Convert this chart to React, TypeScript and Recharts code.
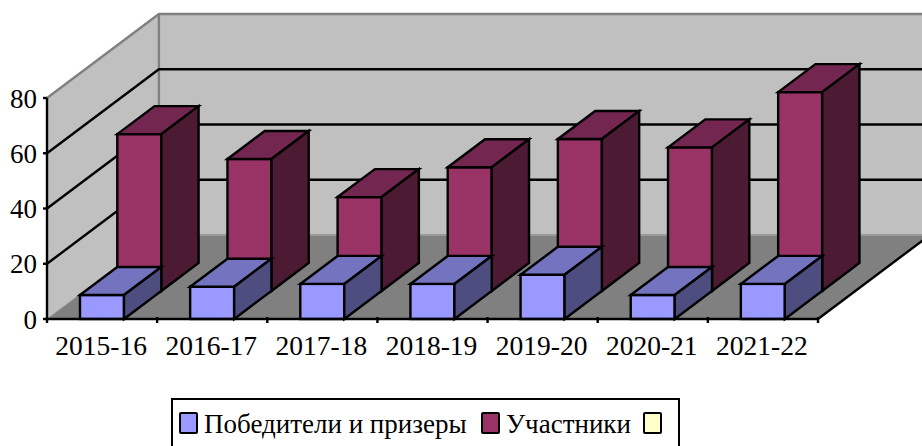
import { BarChart, Bar, XAxis, YAxis, CartesianGrid, ReferenceArea, Legend } from "recharts";

const categories = ["2015-16", "2016-17", "2017-18", "2018-19", "2019-20", "2020-21", "2021-22"];
const winners = [8.7, 11.7, 12.7, 12.7, 16, 8.7, 12.7];
const participants = [56.8, 47.8, 34, 44.8, 55, 52, 72];
const blank = [null, null, null, null, null, null, null];
const yTicks = [0, 20, 40, 60, 80];

const data = categories.map((season, i) => ({
  season,
  winners: winners[i],
  participants: participants[i],
  blank: blank[i],
}));

const FONT = "'Liberation Serif', serif";
// one bar's depth in the fake 3D view, the whole floor is three of these
const DX = 37.3;
const DY = 28;
const BACK_X = DX * 3;
const BACK_Y = DY * 3;
const LINE = 2.4;

function makeBar(front: string, top: string, side: string, row: number) {
  return function Bar3D(props: any) {
    const { x, y, width, height } = props;
    if (y == null || !height) return <g />;
    const left = x + DX * row;
    const right = left + width;
    const up = y - DY * row;
    const down = up + height;
    return (
      <g stroke="#000" strokeWidth={LINE} strokeLinejoin="miter">
        <rect x={left} y={up} width={width} height={height} fill={front} />
        <polygon
          points={`${left},${up} ${left + DX},${up - DY} ${right + DX},${up - DY} ${right},${up}`}
          fill={top}
        />
        <polygon
          points={`${right},${up} ${right + DX},${up - DY} ${right + DX},${down - DY} ${right},${down}`}
          fill={side}
        />
      </g>
    );
  };
}

function Walls(props: any) {
  const { x, y, width, height } = props;
  const bottom = y + height;
  const right = x + width;
  const far = 960;
  return (
    <g>
      <polygon points={`${x},${y} ${x + BACK_X},${y - BACK_Y} ${far},${y - BACK_Y} ${far},${bottom - BACK_Y} ${x + BACK_X},${bottom - BACK_Y} ${x},${bottom}`} fill="#C0C0C0" />
      <polygon points={`${x},${bottom} ${x + BACK_X},${bottom - BACK_Y} ${far},${bottom - BACK_Y} ${right + BACK_X},${bottom - BACK_Y} ${right},${bottom}`} fill="#808080" />
      <polyline points={`${x},${y} ${x + BACK_X},${y - BACK_Y} ${far},${y - BACK_Y}`} fill="none" stroke="#808080" strokeWidth={LINE} />
      <line x1={x + BACK_X} y1={y - BACK_Y} x2={x + BACK_X} y2={bottom - BACK_Y} stroke="#808080" strokeWidth={LINE} />
      <line x1={x} y1={bottom} x2={x + BACK_X} y2={bottom - BACK_Y} stroke="#9a9a9a" strokeWidth={1} />
      <line x1={x + BACK_X} y1={bottom - BACK_Y} x2={far} y2={bottom - BACK_Y} stroke="#999999" strokeWidth={2} />
      <line x1={right} y1={bottom} x2={right + BACK_X} y2={bottom - BACK_Y} stroke="#000" strokeWidth={LINE} />
    </g>
  );
}

function GridLine(props: any) {
  const { x1, y1 } = props;
  if (y1 <= 99 || y1 >= 318) return <g />;
  return (
    <polyline
      points={`${x1},${y1} ${x1 + BACK_X},${y1 - BACK_Y} 960,${y1 - BACK_Y}`}
      fill="none"
      stroke="#000"
      strokeWidth={LINE}
    />
  );
}

function SeasonTick(props: any) {
  const { x, y, payload, index } = props;
  const half = payload.offset ?? 55;
  return (
    <g>
      <line x1={x - half} y1={y - 10} x2={x - half} y2={y - 4} stroke="#000" strokeWidth={LINE} />
      {index === categories.length - 1 && (
        <line x1={x + half} y1={y - 10} x2={x + half} y2={y - 4} stroke="#000" strokeWidth={LINE} />
      )}
      <text x={x - 1} y={y + 28} textAnchor="middle" fontFamily={FONT} fontSize={27.5} fill="#000">
        {payload.value}
      </text>
    </g>
  );
}

function LegendBox(props: any) {
  const items = props.payload || [];
  return (
    <div style={{ fontFamily: FONT, fontSize: 27, color: "#000", lineHeight: "27px", position: "relative" }}>
      {items.map((item: any, i: number) => {
        const swatchX = [6, 308, 470][i];
        return (
          <span key={i}>
            <span
              style={{
                position: "absolute",
                left: swatchX,
                top: 12,
                width: 15,
                height: 18,
                border: "2px solid #000",
                borderRadius: 2,
                background: item.color,
              }}
            />
            <span style={{ position: "absolute", left: swatchX + 25, top: 11, whiteSpace: "nowrap" }}>{item.value}</span>
          </span>
        );
      })}
    </div>
  );
}

function order(item: any) {
  return ["winners", "participants", "blank"].indexOf(item.dataKey);
}

export default function App() {
  return (
    <div style={{ position: "absolute", left: 0, top: 0, width: 922, height: 446, overflow: "hidden", background: "#fff" }}>
      <BarChart
        width={922}
        height={446}
        data={data}
        margin={{ top: 98, right: 104, bottom: 0, left: 0 }}
        barSize={44}
        barGap={-44}
      >
        <ReferenceArea y1={0} y2={80} shape={Walls} ifOverflow="visible" zIndex={-200} />
        <CartesianGrid vertical={false} horizontal={GridLine} />
        <XAxis
          dataKey="season"
          axisLine={{ stroke: "#000", strokeWidth: LINE }}
          tickLine={false}
          tick={SeasonTick}
          interval={0}
          height={127}
        />
        <YAxis
          domain={[0, 80]}
          ticks={yTicks}
          interval={0}
          width={47}
          axisLine={{ stroke: "#000", strokeWidth: LINE }}
          tickLine={{ stroke: "#000", strokeWidth: LINE }}
          tickSize={4}
          tickMargin={6}
          tick={{ fill: "#000", fontFamily: FONT, fontSize: 27 }}
        />
        <Bar dataKey="participants" name="Участники" fill="#993366" isAnimationActive={false} shape={makeBar("#993366", "#732650", "#4C1A33", 1)} />
        <Bar dataKey="winners" name="Победители и призеры" fill="#9999FF" isAnimationActive={false} shape={makeBar("#9999FF", "#7373BF", "#4D4D80", 0)} />
        <Bar dataKey="blank" name=" " fill="#FFFFCC" isAnimationActive={false} />
        <Legend
          layout="vertical"
          align="center"
          verticalAlign="middle"
          itemSorter={null}
          content={(p: any) => (
            <LegendBox
              payload={[...(p.payload || [])].sort((a: any, b: any) => order(a) - order(b))}
            />
          )}
          wrapperStyle={{
            position: "absolute",
            left: 171,
            top: 398,
            width: 509,
            height: 70,
            border: "2px solid #000",
            boxSizing: "border-box",
            background: "#fff",
          }}
        />
      </BarChart>
    </div>
  );
}
